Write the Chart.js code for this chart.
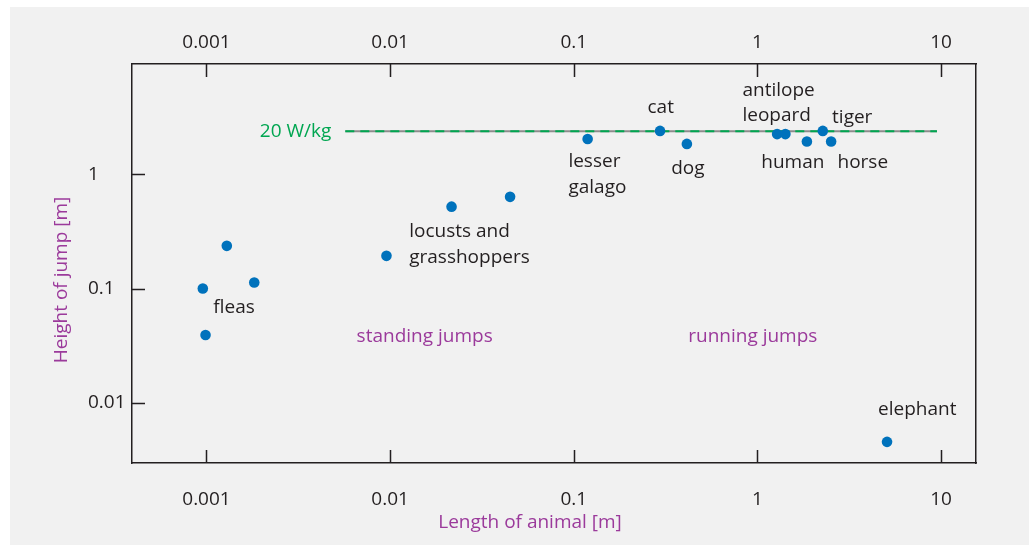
<!DOCTYPE html>
<html>
<head>
<meta charset="utf-8">
<script src="https://cdn.jsdelivr.net/npm/chart.js@4"></script>
<style>
html,body{margin:0;padding:0;background:#ffffff;}
#wrap{width:1029px;height:545px;position:relative;}
</style>
</head>
<body>
<div id="wrap"><canvas id="c"></canvas></div>
<script>
// ---- data ----
const animals = ['flea','flea','flea','flea','locust','locust','locust','lesser galago','cat','dog','antilope','leopard','human','tiger','horse','elephant'];
const lengthM = [0.000955, 0.00129, 0.00182, 0.000988, 0.00955, 0.0216, 0.045, 0.119, 0.295, 0.413, 1.28, 1.42, 1.86, 2.27, 2.52, 5.08];
const heightM = [0.100, 0.236, 0.113, 0.0392, 0.193, 0.52, 0.633, 2.03, 2.39, 1.84, 2.24, 2.24, 1.93, 2.39, 1.93, 0.00456];

const powerLineLength = [0.0057, 9.5];
const powerLineHeight = [2.37, 2.37];
const powerLabel = '20 W/kg';

const xTickValues = [0.001, 0.01, 0.1, 1, 10];
const xTickLabels = ['0.001', '0.01', '0.1', '1', '10'];
const yTickValues = [0.01, 0.1, 1];
const yTickLabels = ['0.01', '0.1', '1'];

const labelTexts = ['fleas','locusts and','grasshoppers','lesser','galago','cat','dog','antilope','leopard','tiger','human','horse','elephant'];
const labelX =     [0.00109, 0.0127, 0.0127, 0.0935, 0.0935, 0.252, 0.339, 0.829, 0.829, 2.55, 1.05, 2.73, 4.54];
const labelY =     [0.0614, 0.284, 0.167, 1.166, 0.690, 3.42, 1.006, 4.85, 2.89, 2.80, 1.142, 1.142, 0.0078];

const regionTexts = ['standing jumps', 'running jumps'];
const regionX = [0.00657, 0.42];
const regionY = [0.0342, 0.0342];

const xTitle = 'Length of animal [m]';
const yTitle = 'Height of jump [m]';

// ---- styles ----
const FONT = '"Open Sans", "Noto Sans", sans-serif';
const DARK = '#231f20';
const PURPLE = '#9b3a9b';
const GREEN = '#00a651';
const BLUE = '#0072bc';

const points = lengthM.map((x, i) => ({x: x, y: heightM[i]}));
const powerPts = powerLineLength.map((x, i) => ({x: x, y: powerLineHeight[i]}));

const decor = {
  id: 'decor',
  beforeDraw(chart) {
    const ctx = chart.ctx;
    ctx.save();
    ctx.fillStyle = '#f1f1f1';
    ctx.fillRect(10, 7, chart.width - 10, chart.height - 7);
    ctx.restore();
  },
  afterDraw(chart) {
    const ctx = chart.ctx;
    const a = chart.chartArea;
    const sx = chart.scales.x, sy = chart.scales.y;
    ctx.save();
    // inward tick marks
    ctx.strokeStyle = DARK;
    ctx.lineWidth = 1.5;
    ctx.beginPath();
    xTickValues.forEach(v => {
      const px = Math.round(sx.getPixelForValue(v)) + 0.5;
      ctx.moveTo(px, a.bottom); ctx.lineTo(px, a.bottom - 13);
      ctx.moveTo(px, a.top); ctx.lineTo(px, a.top + 13);
    });
    yTickValues.forEach(v => {
      const py = Math.round(sy.getPixelForValue(v)) + 0.5;
      ctx.moveTo(a.left, py); ctx.lineTo(a.left + 13, py);
    });
    ctx.stroke();

    // annotations
    ctx.font = '19px ' + FONT;
    ctx.textAlign = 'left';
    ctx.textBaseline = 'alphabetic';
    ctx.fillStyle = DARK;
    labelTexts.forEach((t, i) => {
      ctx.fillText(t, sx.getPixelForValue(labelX[i]), sy.getPixelForValue(labelY[i]));
    });
    ctx.fillStyle = PURPLE;
    regionTexts.forEach((t, i) => {
      ctx.fillText(t, sx.getPixelForValue(regionX[i]), sy.getPixelForValue(regionY[i]));
    });
    // power label
    ctx.fillStyle = GREEN;
    ctx.textAlign = 'right';
    ctx.textBaseline = 'middle';
    ctx.fillText(powerLabel, sx.getPixelForValue(powerLineLength[0]) - 14, sy.getPixelForValue(powerLineHeight[0]));

    // axis titles
    ctx.fillStyle = PURPLE;
    ctx.textAlign = 'center';
    ctx.textBaseline = 'middle';
    ctx.fillText(xTitle, 530, 523);
    ctx.translate(62, 280);
    ctx.rotate(-Math.PI / 2);
    ctx.fillText(yTitle, 0, 0);
    ctx.restore();
  }
};

const tickFont = {family: FONT, size: 19};

new Chart(document.getElementById('c'), {
  type: 'scatter',
  data: {
    datasets: [
      {
        label: 'animals',
        data: points,
        backgroundColor: BLUE,
        borderWidth: 0,
        pointRadius: 5.3,
        pointHoverRadius: 5.3
      },
      {
        label: powerLabel + ' dashes',
        type: 'line',
        data: powerPts,
        borderColor: GREEN,
        borderWidth: 2,
        borderDash: [9, 6],
        pointRadius: 0,
        fill: false
      },
      {
        label: powerLabel,
        type: 'line',
        data: powerPts,
        borderColor: '#8c8c8c',
        borderWidth: 2,
        pointRadius: 0,
        fill: false
      }
    ]
  },
  options: {
    responsive: true,
    maintainAspectRatio: false,
    animation: false,
    events: [],
    layout: {padding: {left: 88, right: 53, top: 0, bottom: 0}},
    plugins: {legend: {display: false}, tooltip: {enabled: false}},
    scales: {
      x: {
        type: 'logarithmic',
        position: 'bottom',
        min: 0.000393,
        max: 15.5,
        afterBuildTicks: s => { s.ticks = xTickValues.map(v => ({value: v})); },
        afterFit: s => { s.height = 82; },
        ticks: {
          autoSkip: false, maxRotation: 0, padding: 25, color: DARK, font: tickFont,
          callback: (v) => { const i = xTickValues.indexOf(v); return i >= 0 ? xTickLabels[i] : ''; }
        },
        grid: {display: false, drawTicks: false},
        border: {display: true, color: DARK, width: 1.5}
      },
      x2: {
        type: 'logarithmic',
        position: 'top',
        min: 0.000393,
        max: 15.5,
        afterBuildTicks: s => { s.ticks = xTickValues.map(v => ({value: v})); },
        afterFit: s => { s.height = 64; },
        ticks: {
          autoSkip: false, maxRotation: 0, padding: 10, color: DARK, font: tickFont,
          callback: (v) => { const i = xTickValues.indexOf(v); return i >= 0 ? xTickLabels[i] : ''; }
        },
        grid: {display: false, drawTicks: false},
        border: {display: true, color: DARK, width: 1.5}
      },
      y: {
        type: 'logarithmic',
        position: 'left',
        min: 0.00298,
        max: 9.19,
        afterBuildTicks: s => { s.ticks = yTickValues.map(v => ({value: v})); },
        afterFit: s => { s.width = 44; },
        ticks: {
          autoSkip: false, crossAlign: 'far', padding: 8, color: DARK, font: tickFont,
          callback: (v) => { const i = yTickValues.indexOf(v); return i >= 0 ? yTickLabels[i] : ''; }
        },
        grid: {display: false, drawTicks: false},
        border: {display: true, color: DARK, width: 1.5}
      },
      y2: {
        type: 'logarithmic',
        position: 'right',
        min: 0.00298,
        max: 9.19,
        afterFit: s => { s.width = 0; },
        ticks: {display: false},
        grid: {display: false, drawTicks: false},
        border: {display: true, color: DARK, width: 1.5}
      }
    }
  },
  plugins: [decor]
});
</script>
</body>
</html>
